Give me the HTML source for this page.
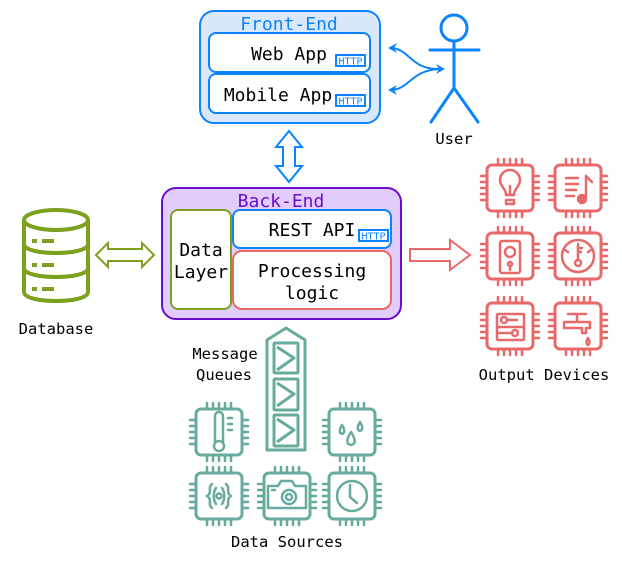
<!DOCTYPE html>
<html><head><meta charset="utf-8"><style>
html,body{margin:0;padding:0;background:#fff;}
svg{display:block;}
text{font-family:"DejaVu Sans Mono","Liberation Mono",monospace;}
</style></head><body>
<svg width="622" height="566" viewBox="0 0 622 566" xmlns="http://www.w3.org/2000/svg">
<defs>
<g id="chip" fill="none" stroke-width="3" stroke-linecap="round" stroke-linejoin="round">
<rect x="-23" y="-23" width="46" height="46" rx="5"/>
<path stroke-width="2.5" d="M-12,-23V-29M-6,-23V-29M0,-23V-29M6,-23V-29M12,-23V-29 M-12,23V29M-6,23V29M0,23V29M6,23V29M12,23V29 M-23,-12H-29M-23,-6H-29M-23,0H-29M-23,6H-29M-23,12H-29 M23,-12H29M23,-6H29M23,0H29M23,6H29M23,12H29"/>
</g>
</defs>

<!-- Front-End -->
<rect x="200" y="11" width="180" height="112" rx="14" fill="#dae8fc" stroke="#0a84ff" stroke-width="2"/>
<text x="289" y="30" text-anchor="middle" font-size="18" fill="#0a84ff">Front-End</text>
<rect x="209" y="33" width="161" height="39" rx="7" fill="#fff" stroke="#0a84ff" stroke-width="2"/>
<text x="289" y="60" text-anchor="middle" font-size="18" fill="#000">Web App</text>
<rect x="336" y="55" width="29" height="11" fill="#fff" stroke="#0a84ff" stroke-width="2"/>
<text x="350.5" y="64.5" text-anchor="middle" font-size="10" fill="#0a84ff" textLength="24" lengthAdjust="spacingAndGlyphs">HTTP</text>
<rect x="209" y="74" width="161" height="39" rx="7" fill="#fff" stroke="#0a84ff" stroke-width="2"/>
<text x="278" y="101" text-anchor="middle" font-size="18" fill="#000">Mobile App</text>
<rect x="336" y="95" width="29" height="11" fill="#fff" stroke="#0a84ff" stroke-width="2"/>
<text x="350.5" y="104.5" text-anchor="middle" font-size="10" fill="#0a84ff" textLength="24" lengthAdjust="spacingAndGlyphs">HTTP</text>

<!-- User -->
<g stroke="#0a84ff" stroke-width="3" fill="none" stroke-linecap="round">
<circle cx="454" cy="28" r="13"/>
<path d="M454,41V88M430,50H479M454,88L431,122M454,88L478,122"/>
</g>
<g stroke="#0a84ff" stroke-width="2" fill="none">
<path d="M390,48C410,48 410,70 440,69"/>
<path d="M390,90C410,90 410,70 440,69"/>
</g>
<g fill="#0a84ff">
<path d="M388,48l9,-5l-3,5l3,5z"/><path d="M388,90l9,-5l-3,5l3,5z"/><path d="M445,69l-9,-5l3,5l-3,5z"/>
</g>
<text x="454" y="144" text-anchor="middle" font-size="15.5" fill="#000">User</text>

<!-- vertical double arrow -->
<path d="M289,131L302,147H295V166H302L289,182L276,166H283V147H276Z" fill="#fff" stroke="#0a84ff" stroke-width="2"/>

<!-- Back-End -->
<rect x="162" y="188" width="239" height="131" rx="14" fill="#e1ccfc" stroke="#6a0dcc" stroke-width="2"/>
<text x="281" y="207" text-anchor="middle" font-size="18" fill="#6a0dcc">Back-End</text>
<rect x="171" y="210" width="60" height="99" rx="7" fill="#fff" stroke="#7da01f" stroke-width="2"/>
<text x="201" y="256" text-anchor="middle" font-size="18" fill="#000">Data</text>
<text x="201" y="278" text-anchor="middle" font-size="18" fill="#000">Layer</text>
<rect x="233" y="210" width="158" height="38" rx="7" fill="#fff" stroke="#0a84ff" stroke-width="2"/>
<text x="312" y="236" text-anchor="middle" font-size="18" fill="#000">REST API</text>
<rect x="359" y="230" width="29" height="11" fill="#fff" stroke="#0a84ff" stroke-width="2"/>
<text x="373.5" y="239.5" text-anchor="middle" font-size="10" fill="#0a84ff" textLength="24" lengthAdjust="spacingAndGlyphs">HTTP</text>
<rect x="233" y="251" width="158" height="58" rx="9" fill="#fff" stroke="#e8696a" stroke-width="2"/>
<text x="312" y="277" text-anchor="middle" font-size="18" fill="#000">Processing</text>
<text x="312" y="299" text-anchor="middle" font-size="18" fill="#000">logic</text>

<!-- right arrow to outputs -->
<path d="M410,249H450V240L470,255L450,270V261H410Z" fill="#fff" stroke="#e8696a" stroke-width="2"/>

<!-- Database -->
<g stroke="#7da01f" stroke-width="4" fill="none">
<ellipse cx="56" cy="220" rx="32" ry="10"/>
<path d="M24,220V292C24,304 88,304 88,292V220"/>
<path d="M24,244C24,256 88,256 88,244M24,268C24,280 88,280 88,268"/>
</g>
<g fill="#7da01f">
<rect x="32" y="239" width="5" height="4"/><rect x="42" y="239" width="12" height="4"/>
<rect x="32" y="263" width="5" height="4"/><rect x="42" y="263" width="12" height="4"/>
<rect x="32" y="287" width="5" height="4"/><rect x="42" y="287" width="12" height="4"/>
</g>
<text x="56" y="334" text-anchor="middle" font-size="15.5" fill="#000">Database</text>
<path d="M96,255L108,243V249H142V243L154,255L142,267V261H108V267Z" fill="#fff" stroke="#7da01f" stroke-width="2"/>

<!-- Output chips -->
<g stroke="#e8696a" fill="none">
<use href="#chip" x="510" y="188"/><use href="#chip" x="578" y="188"/>
<use href="#chip" x="510" y="256"/><use href="#chip" x="578" y="256"/>
<use href="#chip" x="510" y="326"/><use href="#chip" x="578" y="326"/>
<g stroke-width="2.5" stroke-linecap="round" stroke-linejoin="round">
<path d="M506,195C506,188 500,187 500,180A10,10 0 1 1 520,180C520,187 514,188 514,195Z M510,195V186M506,200H514V204H506Z"/>
<path d="M566,178H578M566,184H578M566,190H576M566,196H574M586,176V198M586,176L592,182"/>
<circle cx="582" cy="199" r="4" fill="#e8696a"/>
<rect x="500" y="241" width="20" height="32" rx="2"/>
<circle cx="510" cy="252" r="5"/><circle cx="510" cy="264" r="2"/><path d="M510,266V270"/>
<circle cx="578" cy="256" r="16"/>
<path d="M578,244V260M578,248H582M578,252H581M565,250L568,252M591,250L588,252"/>
<circle cx="578" cy="263" r="3"/>
<rect x="497" y="314" width="27" height="26" rx="1"/>
<path d="M497,327H524"/><circle cx="504" cy="320" r="3"/><path d="M507,320H517"/><circle cx="515" cy="333" r="3"/><path d="M497,333H512"/>
<path d="M568,314H586M577,314V320M564,322H590V328H586V333H582V328H564Z"/>
<path d="M588,338C586,341 586,344 588,345C590,344 590,341 588,338Z"/>
</g>
</g>
<text x="544" y="380" text-anchor="middle" font-size="15.5" fill="#000">Output Devices</text>

<!-- Message queue -->
<g stroke="#67ab9f" fill="none" stroke-width="3" stroke-linejoin="round">
<path d="M267,340L286,328L305,340V450H267Z"/>
<rect x="274" y="343" width="24" height="30" rx="1"/>
<rect x="274" y="379" width="24" height="31" rx="1"/>
<rect x="274" y="415" width="24" height="31" rx="1"/>
<path d="M277,347L294,358L277,370M277,383L294,394L277,406M277,419L294,430L277,442"/>
</g>
<text x="225" y="359" text-anchor="middle" font-size="15.5" fill="#000">Message</text>
<text x="224" y="380" text-anchor="middle" font-size="15.5" fill="#000">Queues</text>

<!-- Data source chips -->
<g stroke="#67ab9f" fill="none">
<use href="#chip" x="219" y="432"/><use href="#chip" x="352" y="432"/>
<use href="#chip" x="219" y="496"/><use href="#chip" x="287" y="496"/><use href="#chip" x="352" y="496"/>
<g stroke-width="2.5" stroke-linecap="round" stroke-linejoin="round">
<path d="M215,442V416A4,4 0 0 1 223,416V442"/><circle cx="219" cy="446" r="5"/>
<path d="M228,418H232M228,424H232M228,430H232"/>
<path d="M342,425C339,430 339,433 342,434C345,433 345,430 342,425Z"/>
<path d="M360,422C357,427 357,430 360,431C363,430 363,427 360,422Z"/>
<path d="M351,432C346,440 346,444 351,445C356,444 356,440 351,432Z"/>
<path d="M212,484C207,488 213,492 207,496C213,500 207,504 212,508M226,484C231,488 225,492 231,496C225,500 231,504 226,508"/>
<path d="M216,488C213,492 213,500 216,504M222,488C225,492 225,500 222,504"/>
<circle cx="219" cy="496" r="2.5"/>
<path d="M268,486H278L281,481H292L295,486H306V508H268Z"/>
<circle cx="289" cy="497" r="7"/><circle cx="289" cy="497" r="3"/><path d="M272,490H275"/>
<circle cx="352" cy="496" r="15"/><path d="M350,485V497L357,503"/>
</g>
</g>
<text x="287" y="547" text-anchor="middle" font-size="15.5" fill="#000">Data Sources</text>
</svg>
</body></html>
